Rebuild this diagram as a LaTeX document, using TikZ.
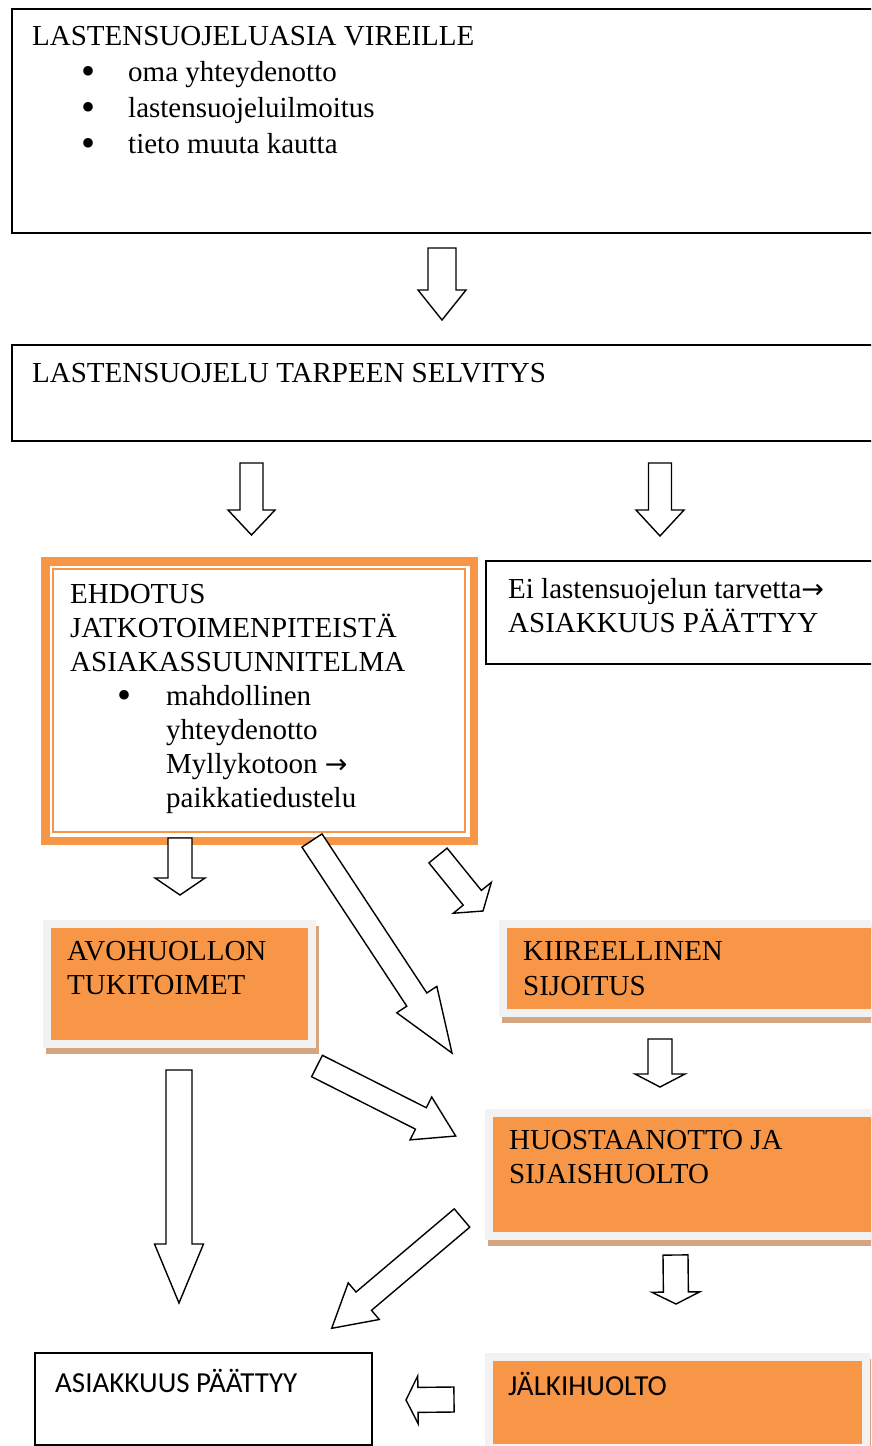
\documentclass[tikz,border=0pt]{standalone}
\usepackage{fontspec}
\setmainfont{Liberation Serif}
\newfontfamily\calibri{Carlito}
\newfontfamily\arrowfont{DejaVu Sans}
\usetikzlibrary{calc}
\definecolor{accorange}{HTML}{F79646}
\definecolor{framegray}{HTML}{F2F2F2}
\definecolor{shadowtan}{RGB}{212,165,128}

% hollow block arrow: start, tip, half shaft, half head, head length
\newcommand{\blockarrow}[5]{%
  \coordinate (hb) at ($(#2)!#5!(#1)$);
  \draw[hollow] ($(#1)!#3!90:(#2)$) -- ($(hb)!#3!90:(#2)$) -- ($(hb)!#4!90:(#2)$)
    -- (#2) -- ($(hb)!#4!-90:(#2)$) -- ($(hb)!#3!-90:(#2)$) -- ($(#1)!#3!-90:(#2)$) -- cycle;
}
\newcommand{\itemdot}[2]{\hspace*{#1}\makebox[#2][l]{\smash{\raisebox{-3.5pt}{\fontsize{40}{40}\selectfont\textbullet}}}}
\newcommand{\toarrow}{{\arrowfont\fontsize{27}{30}\selectfont →}}

\begin{document}
\begin{tikzpicture}[x=1pt, y=-1pt,
    plainbox/.style={draw, line width=1.6pt, anchor=north west, inner sep=0pt},
    orangebox/.style={anchor=north west, inner sep=0pt, fill=accorange, draw=framegray, line width=8pt,
      preaction={draw=shadowtan, fill=shadowtan, line width=8pt, transform canvas={xshift=3pt, yshift=-6pt}}},
    txt/.style={anchor=base west, inner sep=0pt, align=left, font=\fontsize{29}{34.5}\selectfont},
    hollow/.style={draw, fill=white, line width=1.4pt, line join=miter}]
            \useasboundingbox (0,0) rectangle (871,1446);
            \clip (0,0) rectangle (871,1446);

            % Boxes
            \node[plainbox, minimum width=869pt, minimum height=224pt] (vireille) at (11,8) {};
            \node[plainbox, minimum width=869pt, minimum height=96pt] (selvitys) at (11,344) {};
            \node[anchor=north west, inner sep=0pt, draw=accorange, line width=8.5pt,
                  minimum width=428.5pt, minimum height=279.5pt] (ehdotus) at (41.25,557.25) {};
            \draw[accorange, line width=2pt] ($(ehdotus.north west)+(11.5,12)$) rectangle ($(ehdotus.south east)+(-13,-13)$);
            \node[plainbox, minimum width=395pt, minimum height=103pt] (eitarvetta) at (485,560) {};
            \node[orangebox, minimum width=265pt, minimum height=120pt] (avohuolto) at (43,920) {};
            \node[orangebox, minimum width=391pt, minimum height=89pt] (kiireellinen) at (499,920) {};
            \node[orangebox, minimum width=405pt, minimum height=123pt] (huostaanotto) at (485,1109) {};
            \node[orangebox, minimum width=377pt, minimum height=91pt] (jalkihuolto) at (485,1353) {};
            \node[plainbox, minimum width=337pt, minimum height=92pt] (paattyy) at (34,1352) {};

            % Texts (anchored on the last line)
            \node[txt, font=\fontsize{29}{36}\selectfont] (t-vireille) at (32,153) {LASTENSUOJELUASIA VIREILLE\\
                \itemdot{49pt}{47pt}oma yhteydenotto\\
                \itemdot{49pt}{47pt}lastensuojeluilmoitus\\
                \itemdot{49pt}{47pt}tieto muuta kautta};
            \node[txt] (t-selvitys) at (32,382) {LASTENSUOJELU TARPEEN SELVITYS};
            \node[txt, font=\fontsize{29}{34}\selectfont] (t-ehdotus) at (70,807) {EHDOTUS\\
                JATKOTOIMENPITEISTÄ\\
                ASIAKASSUUNNITELMA\\
                \itemdot{47pt}{49pt}mahdollinen\\
                \hspace*{96pt}yhteydenotto\\
                \hspace*{96pt}Myllykotoon \toarrow\\
                \hspace*{96pt}paikkatiedustelu};
            \node[txt] (t-eitarvetta) at (508,632.5) {Ei lastensuojelun tarvetta\toarrow\\ASIAKKUUS PÄÄTTYY};
            \node[txt] (t-avohuolto) at (67,994.5) {AVOHUOLLON\\TUKITOIMET};
            \node[txt] (t-kiireellinen) at (523,995) {KIIREELLINEN\\SIJOITUS};
            \node[txt] (t-huostaanotto) at (509,1183.5) {HUOSTAANOTTO JA\\SIJAISHUOLTO};
            \node[txt, font=\calibri\fontsize{29}{34.5}\selectfont] (t-paattyy) at (55,1392) {ASIAKKUUS PÄÄTTYY};
            \node[txt, font=\calibri\fontsize{29}{34.5}\selectfont] (t-jalkihuolto) at (508,1395) {JÄLKIHUOLTO};

            % Arrow ends
            \coordinate (a1s) at (442,248);    \coordinate (a1e) at (442,320);
            \coordinate (a2s) at (251.5,463);  \coordinate (a2e) at (251.5,535);
            \coordinate (a3s) at (660,463);    \coordinate (a3e) at (660,536);
            \coordinate (a4s) at (180,838);    \coordinate (a4e) at (180,895);
            \coordinate (a5s) at (312,840.5);  \coordinate (a5e) at (452,1053);
            \coordinate (a6s) at (438,855.5);  \coordinate (a6e) at (483,911);
            \coordinate (a7s) at (179,1070);   \coordinate (a7e) at (179,1303);
            \coordinate (a8s) at (317,1066);   \coordinate (a8e) at (455.7,1136);
            \coordinate (a9s) at (462,1218);   \coordinate (a9e) at (331.7,1328.3);
            \coordinate (a10s) at (660,1039);  \coordinate (a10e) at (660,1087);
            \coordinate (a11s) at (675.5,1255); \coordinate (a11e) at (676,1304);
            \coordinate (a12s) at (454,1399.5); \coordinate (a12e) at (406,1400);

            % Arrows
            \blockarrow{a1s}{a1e}{14pt}{24pt}{30pt}
            \blockarrow{a2s}{a2e}{11.5pt}{23.5pt}{25pt}
            \blockarrow{a3s}{a3e}{11.5pt}{24pt}{26pt}
            \blockarrow{a4s}{a4e}{12pt}{25pt}{17pt}
            \blockarrow{a5s}{a5e}{12pt}{24pt}{64pt}
            \blockarrow{a6s}{a6e}{11.7pt}{24.5pt}{17pt}
            \blockarrow{a7s}{a7e}{13pt}{24.5pt}{59pt}
            \blockarrow{a8s}{a8e}{12pt}{24pt}{39pt}
            \blockarrow{a9s}{a9e}{12pt}{24pt}{42pt}
            \blockarrow{a10s}{a10e}{12pt}{25pt}{13pt}
            \blockarrow{a11s}{a11e}{12.5pt}{24pt}{12pt}
            \blockarrow{a12s}{a12e}{12.5pt}{24pt}{12pt}
\end{tikzpicture}
\end{document}
